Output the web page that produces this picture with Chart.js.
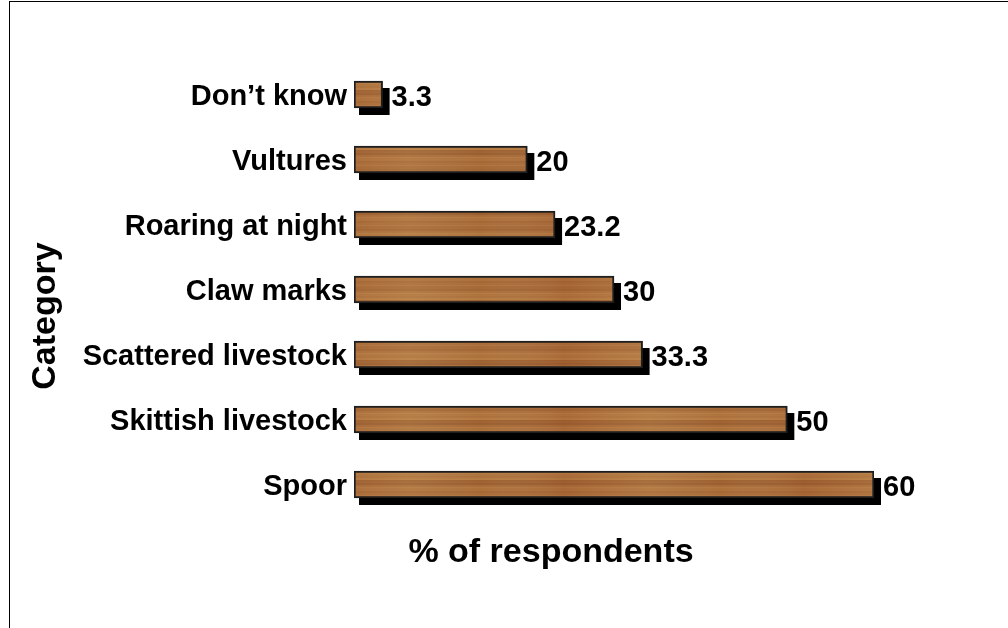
<!DOCTYPE html>
<html>
<head>
<meta charset="utf-8">
<script src="https://cdn.jsdelivr.net/npm/chart.js@4/dist/chart.umd.min.js"></script>
<style>
  html, body { margin: 0; padding: 0; background: #fff; overflow: hidden; }
  #frame { position: absolute; left: 9px; top: 1px; width: 1010px; height: 640px; border: 1px solid #000; box-sizing: border-box; }
  #wrap { position: absolute; left: 0; top: 0; width: 1008px; height: 628px; }
</style>
</head>
<body>
<div id="frame"></div>
<div id="wrap"><canvas id="myChart"></canvas></div>
<script>
// datos del grafico
const categories = ['Don\u2019t know', 'Vultures', 'Roaring at night', 'Claw marks', 'Scattered livestock', 'Skittish livestock', 'Spoor'];
const values = [3.3, 20, 23.2, 30, 33.3, 50, 60];
const xTitle = '% of respondents';
const yTitle = 'Category';

const fontFam = '"Liberation Sans", Arial, sans-serif';

// textura de madera para las barras (franjas fijas, no datos)
function woodPattern() {
    const c = document.createElement('canvas');
    c.width = 240; c.height = 30;
    const g = c.getContext('2d');
    const grad = g.createLinearGradient(0, 0, 0, 30);
    grad.addColorStop(0, '#9c6030');
    grad.addColorStop(0.3, '#ad713b');
    grad.addColorStop(0.6, '#a56936');
    grad.addColorStop(1, '#b67c42');
    g.fillStyle = grad;
    g.fillRect(0, 0, 240, 30);
    const streaks = [
        [3, 2, 'rgba(125,72,35,0.25)'],
        [7, 1, 'rgba(200,145,90,0.25)'],
        [11, 2, 'rgba(140,82,42,0.2)'],
        [15, 1, 'rgba(205,150,95,0.2)'],
        [19, 2, 'rgba(135,80,40,0.2)'],
        [23, 1, 'rgba(205,155,100,0.25)'],
        [26, 2, 'rgba(150,92,48,0.2)']
    ];
    streaks.forEach(s => { g.fillStyle = s[2]; g.fillRect(0, s[0], 240, s[1]); });
    const hgrad = g.createLinearGradient(0, 0, 240, 0);
    hgrad.addColorStop(0, 'rgba(255,255,255,0)');
    hgrad.addColorStop(0.35, 'rgba(140,50,25,0.12)');
    hgrad.addColorStop(0.7, 'rgba(255,225,170,0.1)');
    hgrad.addColorStop(1, 'rgba(255,255,255,0)');
    g.fillStyle = hgrad;
    g.fillRect(0, 0, 240, 30);
    return g.createPattern(c, 'repeat');
}

// sombra negra detras de cada barra
const shadowPlugin = {
    id: 'shadow',
    beforeDatasetsDraw(chart) {
        const ctx = chart.ctx;
        const meta = chart.getDatasetMeta(0);
        ctx.save();
        ctx.fillStyle = '#000';
        meta.data.forEach(bar => {
            const h = bar.height;
            ctx.fillRect(bar.base + 5, bar.y - h / 2 + 7, bar.x - bar.base + 2, h);
        });
        ctx.restore();
    }
};

// etiquetas de valor y titulos de ejes
const labelsPlugin = {
    id: 'valueLabels',
    afterDatasetsDraw(chart) {
        const ctx = chart.ctx;
        const meta = chart.getDatasetMeta(0);
        ctx.save();
        ctx.fillStyle = '#000';
        ctx.font = 'bold 29px ' + fontFam;
        ctx.textAlign = 'left';
        ctx.textBaseline = 'middle';
        meta.data.forEach((bar, i) => {
            ctx.fillText(String(values[i]), bar.x + 9, bar.y + 3);
        });
        ctx.font = 'bold 34px ' + fontFam;
        ctx.textAlign = 'center';
        ctx.fillText(xTitle, 551, 553);
        ctx.translate(46, 316);
        ctx.rotate(-Math.PI / 2);
        ctx.fillText(yTitle, 0, 0);
        ctx.restore();
    }
};

const myChart = document.getElementById('myChart');
new Chart(myChart, {
    type: 'bar',
    data: {
        labels: categories,
        datasets: [{
            data: values,
            backgroundColor: woodPattern(),
            borderColor: '#1e1e1e',
            borderWidth: 2,
            borderSkipped: false,
            barThickness: 27
        }]
    },
    options: {
        indexAxis: 'y',
        responsive: true,
        maintainAspectRatio: false,
        animation: false,
        layout: { padding: { top: 62, bottom: 111, left: 0, right: 134 } },
        plugins: { legend: { display: false }, tooltip: { enabled: false } },
        scales: {
            x: { display: false, min: 0, max: 60 },
            y: {
                afterFit(scale) { scale.width = 354; },
                grid: { display: false, drawTicks: false },
                border: { display: false },
                ticks: { color: '#000', padding: 7, labelOffset: 2, font: { family: fontFam, size: 29, weight: 'bold' } }
            }
        }
    },
    plugins: [shadowPlugin, labelsPlugin]
});
</script>
</body>
</html>
